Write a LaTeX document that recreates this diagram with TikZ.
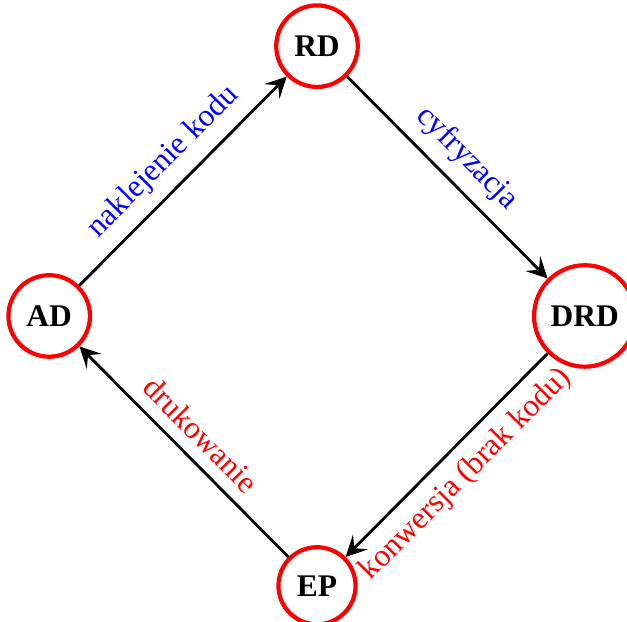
\documentclass[tikz,border=0pt]{standalone}
\usepackage{fontspec}
\setmainfont{Liberation Serif}
\usetikzlibrary{arrows.meta}

\begin{document}
\begin{tikzpicture} [font=\fontsize{9}{11}\selectfont,
        state/.style={circle, draw=red, very thick, font=\fontsize{9}{11}\selectfont\bfseries},
        edge/.style={thick, -{Stealth[length=6pt, width=6pt, inset=2.5pt]}}]
        \useasboundingbox (-90.6pt,-87.4pt) rectangle (88.6pt,90.3pt);
        \node[state] (RD) at (0,2.71) {RD};
        \node[state] (AD) at (-2.69,0) {AD};
        \node[state] (DRD) at (2.69,0) {DRD};
        \node[state] (EP) at (0,-2.71) {EP};
        \draw[edge] (AD) -- node[midway, above, sloped, blue] {naklejenie kodu} (RD);
        \draw[edge] (RD) -- node[midway, above, sloped, blue] {cyfryzacja} (DRD);
        \draw[edge] (DRD) -- node[midway, below, sloped, red] {konwersja (brak kodu)} (EP);
        \draw[edge] (EP) -- node[midway, above, sloped, red] {drukowanie} (AD);
      \end{tikzpicture}
\end{document}
